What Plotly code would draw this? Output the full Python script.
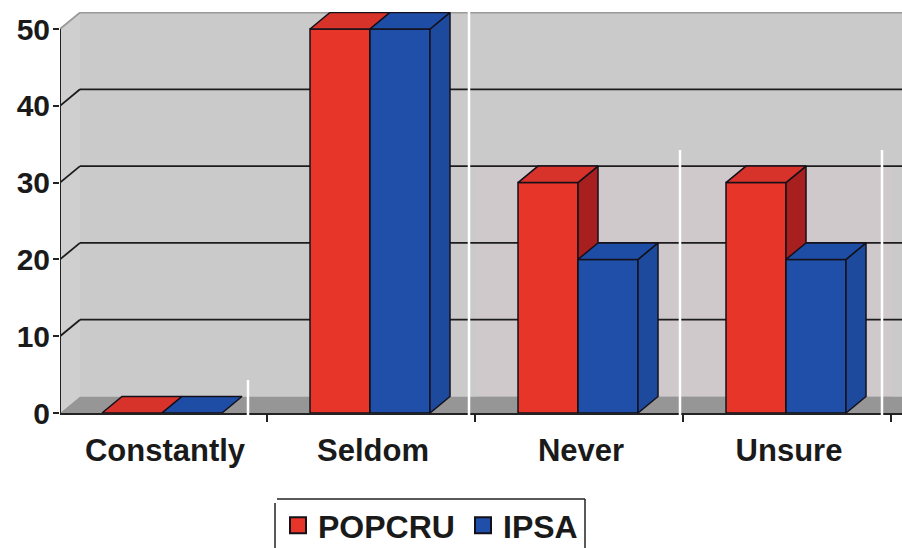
import plotly.graph_objects as go

categories = ["Constantly", "Seldom", "Never", "Unsure"]
popcru = [0, 50, 30, 30]
ipsa = [0, 50, 20, 20]
y_ticks = [0, 10, 20, 30, 40, 50]

# pixel scale of the picture
W, H = 902, 548
LEFT, TOP, BOTTOM = 60, 12, 135
CAT_PX = 208
Y_PX = 7.68
DX = 20 / CAT_PX   # depth of the fake 3d, in axis units
DY = 16.5 / Y_PX
BAR_W = 60 / CAT_PX
SHIFT = -3 / CAT_PX

x_range = [-(165 - LEFT) / CAT_PX, (W - 165) / CAT_PX]
y_range = [0, (H - BOTTOM - TOP) / Y_PX]
x0, x1 = x_range

RED, RED_TOP, RED_SIDE = "#e8352a", "#d7332b", "#a81f20"
BLUE, BLUE_TOP, BLUE_SIDE = "#1f4fa8", "#1e4da6", "#1e4a9e"
EDGE = "#14101a"


def px_x(p):
    return (p - LEFT) / (W - LEFT)


def px_y(p):
    return (H - BOTTOM - p) / (H - BOTTOM - TOP)


def faces(values, left, color_top, color_side, axes):
    # top and side faces of the bars, worked out from the values
    tx, ty, sx, sy = [], [], [], []
    for i, v in enumerate(values):
        a = i + SHIFT + left
        b = a + BAR_W
        tx += [a, b, b + DX, a + DX, a, None]
        ty += [v, v, v + DY, v + DY, v, None]
        if v > 0:
            sx += [b, b + DX, b + DX, b, b, None]
            sy += [0, DY, v + DY, v, 0, None]
    out = []
    for px_, py_, col in [(sx, sy, color_side), (tx, ty, color_top)]:
        out.append(go.Scatter(x=px_, y=py_, mode="lines", fill="toself", fillcolor=col,
                              line=dict(color=EDGE, width=1.5), showlegend=False,
                              hoverinfo="skip", xaxis=axes[0], yaxis=axes[1]))
    return out


def legend_key(name, color):
    # plotly's bar swatch is too small, a square marker gets closer
    return go.Scatter(x=[None], y=[None], mode="markers", name=name,
                      marker=dict(symbol="square", size=20, color=color,
                                  line=dict(color=EDGE, width=2)))


fig = go.Figure()

# red series on the first axes, blue on the overlaying ones so it paints over the red sides
fig.add_trace(go.Bar(x=list(range(4)), y=popcru, name="POPCRU", width=BAR_W, offset=SHIFT - BAR_W,
                     showlegend=False, marker=dict(color=RED, line=dict(color=EDGE, width=1.5))))
for t in faces(popcru, -BAR_W, RED_TOP, RED_SIDE, ("x", "y")):
    fig.add_trace(t)
fig.add_trace(go.Bar(x=list(range(4)), y=ipsa, name="IPSA", width=BAR_W, offset=SHIFT,
                     showlegend=False, marker=dict(color=BLUE, line=dict(color=EDGE, width=1.5)),
                     xaxis="x2", yaxis="y2"))
for t in faces(ipsa, 0, BLUE_TOP, BLUE_SIDE, ("x2", "y2")):
    fig.add_trace(t)
fig.add_trace(legend_key("POPCRU", RED))
fig.add_trace(legend_key("IPSA", BLUE))

# walls and floor
shapes = [
    dict(type="path", layer="below", xref="x", yref="y", line=dict(width=0), fillcolor="#cfcfcf",
         path=f"M {x0} 0 L {x0 + DX} {DY} L {x0 + DX} {50 + DY} L {x0} 50 Z"),
    dict(type="rect", layer="below", xref="x", yref="y", line=dict(width=0), fillcolor="#cacaca",
         x0=x0 + DX, x1=x1, y0=DY, y1=50 + DY),
    dict(type="rect", layer="below", xref="x", yref="y", line=dict(width=0), fillcolor="#cfc9cb",
         x0=1.5, x1=3.5, y0=DY, y1=30 + DY),
    dict(type="path", layer="below", xref="x", yref="y", line=dict(width=0), fillcolor="#969696",
         path=f"M {x0} 0 L {x0 + DX} {DY} L {x1} {DY} L {x1} 0 Z"),
]
for v in y_ticks[1:]:
    col = "#9a9a9a" if v == 50 else "#1c1c1c"
    shapes.append(dict(type="line", layer="below", xref="x", yref="y", line=dict(color=col, width=1.8),
                       x0=x0 + DX, x1=x1, y0=v + DY, y1=v + DY))
    shapes.append(dict(type="line", layer="below", xref="x", yref="y", line=dict(color=col, width=1.8),
                       x0=x0, x1=x0 + DX, y0=v, y1=v + DY))
# value axis line stops at the top tick
shapes.append(dict(type="line", xref="x", yref="y", line=dict(color="#222222", width=2),
                   x0=x0, x1=x0, y0=0, y1=50))
# the white scan marks on the page
for p, top, bottom in [(248, 380, 420), (469, 0, 415), (680, 150, 420), (882, 150, 415)]:
    shapes.append(dict(type="line", xref="paper", yref="paper", line=dict(color="white", width=2.5),
                       x0=px_x(p), x1=px_x(p), y0=px_y(bottom), y1=px_y(top)))
# legend frame, the bottom edge is cut off by the page
frame = dict(type="line", xref="paper", yref="paper", line=dict(color="#222222", width=1.5))
shapes.append(dict(frame, x0=px_x(277), x1=px_x(585), y0=px_y(499), y1=px_y(499)))
shapes.append(dict(frame, x0=px_x(275), x1=px_x(275), y0=px_y(548), y1=px_y(503)))
shapes.append(dict(frame, x0=px_x(585), x1=px_x(585), y0=px_y(548), y1=px_y(499)))

font = dict(family="Liberation Sans", size=30, color="#1a1a1a", weight="bold")
fig.update_layout(
    width=W, height=H, margin=dict(l=LEFT, r=0, t=TOP, b=BOTTOM, autoexpand=False),
    paper_bgcolor="white", plot_bgcolor="white", shapes=shapes, font=font,
    showlegend=True,
    legend=dict(orientation="h", x=px_x(278), y=px_y(498),
                xanchor="left", yanchor="top", bgcolor="rgba(0,0,0,0)", font=dict(size=32),
                itemwidth=30, entrywidth=140, entrywidthmode="pixels", traceorder="normal"),
    xaxis=dict(range=x_range, tickmode="array", tickvals=list(range(4)), ticktext=categories,
               ticks="", ticklabelstandoff=9, showgrid=False, zeroline=False, showline=True,
               tickfont=dict(size=31), linecolor="#222222", linewidth=2,
               minor=dict(tick0=-0.51, dtick=1, ticks="outside", ticklen=7, tickcolor="#222222",
                          tickwidth=2, showgrid=False)),
    yaxis=dict(range=y_range, tickmode="array", tickvals=y_ticks, ticks="outside", ticklen=6,
               ticklabelstandoff=-3, tickcolor="#222222", tickwidth=2, showgrid=False,
               zeroline=False, showline=False),
    xaxis2=dict(range=x_range, overlaying="x", visible=False),
    yaxis2=dict(range=y_range, overlaying="y", visible=False),
)

# page margin off, so the figure sits at the window corner
fig.write_html("out.html", config={"displayModeBar": False},
               post_script="document.body.style.margin='0';")
